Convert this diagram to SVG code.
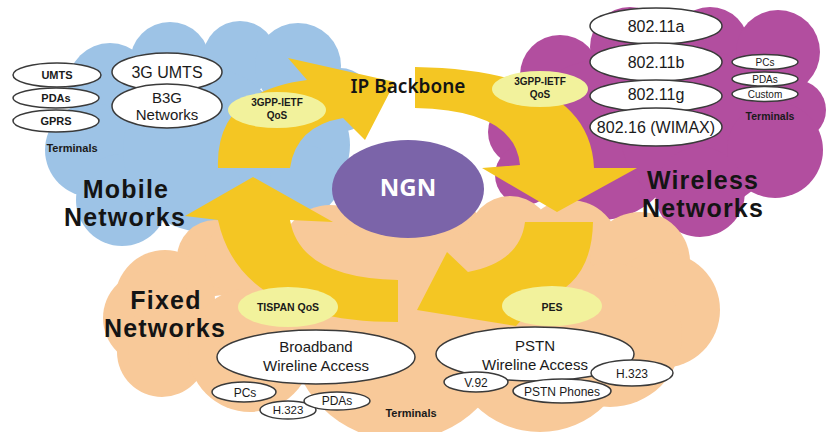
<svg xmlns="http://www.w3.org/2000/svg" width="826" height="432" viewBox="0 0 826 432">
  <style>
    .mobile { fill: #9dc3e6; }
    .wireless { fill: #b24e9f; }
    .fixed { fill: #f8c999; }
    .flow { fill: #f4c623; }
    .node { fill: #ffffff; stroke: #3a3a3a; stroke-width: 1.5; }
    .qos { fill: #f2f29c; }
    .t { font-family: "Liberation Sans", Arial, sans-serif; fill: #1a1a1a; text-anchor: middle; }
    .tb { font-family: "Liberation Sans", Arial, sans-serif; fill: #1a1a1a; text-anchor: middle; font-weight: bold; }
    .big { font-family: "Liberation Sans", Arial, sans-serif; font-weight: bold; font-size: 25px; letter-spacing: 1.2px; fill: #141414; text-anchor: middle; }
  </style>

  <rect width="826" height="432" fill="#ffffff"/>

  <!-- Mobile networks cloud -->
  <g id="mobile-cloud" class="mobile">
    <circle cx="110" cy="85" r="42"/>
    <circle cx="170" cy="62" r="40"/>
    <circle cx="240" cy="58" r="37"/>
    <circle cx="298" cy="66" r="43"/>
    <circle cx="340" cy="100" r="32"/>
    <circle cx="92" cy="150" r="47"/>
    <circle cx="122" cy="200" r="46"/>
    <circle cx="205" cy="150" r="82"/>
    <circle cx="290" cy="145" r="60"/>
    <circle cx="305" cy="180" r="35"/>
  </g>

  <!-- Wireless networks cloud -->
  <g id="wireless-cloud" class="wireless">
    <circle cx="560" cy="75" r="40"/>
    <circle cx="630" cy="47" r="40"/>
    <circle cx="710" cy="46" r="39"/>
    <circle cx="778" cy="52" r="42"/>
    <circle cx="796" cy="110" r="30"/>
    <circle cx="522" cy="132" r="34"/>
    <circle cx="600" cy="140" r="80"/>
    <circle cx="700" cy="130" r="80"/>
    <circle cx="775" cy="150" r="48"/>
    <circle cx="700" cy="192" r="45"/>
    <circle cx="525" cy="175" r="30"/>
  </g>

  <!-- Fixed networks cloud -->
  <g id="fixed-cloud" class="fixed">
    <circle cx="215" cy="258" r="38"/>
    <circle cx="245" cy="258" r="40"/>
    <circle cx="165" cy="300" r="50"/>
    <circle cx="150" cy="318" r="47"/>
    <circle cx="162" cy="352" r="45"/>
    <circle cx="330" cy="255" r="50"/>
    <circle cx="440" cy="247" r="50"/>
    <circle cx="510" cy="238" r="42"/>
    <circle cx="570" cy="250" r="50"/>
    <circle cx="640" cy="262" r="50"/>
    <circle cx="662" cy="310" r="58"/>
    <circle cx="400" cy="330" r="110"/>
    <circle cx="250" cy="350" r="62"/>
    <circle cx="540" cy="340" r="92"/>
    <circle cx="610" cy="335" r="72"/>
  </g>

  <!-- Curved flow arrows circling the core -->
  <g id="connectors" class="flow">
    <path d="M218,168 Q215,92 307,80 L288,58 L395,82 L365,140 L343,118 Q296,126 290,168 Z"/>
    <path d="M415,67 Q590,70 594,168 L637,168 L557,212 L482,168 L520,165 Q515,110 415,108 Z"/>
    <path d="M525,222 L593,222 Q592,285 540,300 L516,326 L417,310 L447,252 L468,272 Q520,262 525,222 Z"/>
    <path d="M398,322 Q240,322 218,220 L185,216 L253,177 L333,222 L290,220 Q300,278 398,280 Z"/>
  </g>

  <!-- Core -->
  <g id="ngn">
    <ellipse cx="408" cy="189" rx="76" ry="49" fill="#7b64a9"/>
    <text x="408" y="196" font-family="Noto Sans, DejaVu Sans, sans-serif" font-weight="bold" font-size="24" fill="#ffffff" text-anchor="middle">NGN</text>
  </g>

  <g id="ip-backbone">
    <text x="408" y="93" font-family="Noto Sans, DejaVu Sans, sans-serif" font-weight="600" font-size="19" fill="#141414" text-anchor="middle">IP Backbone</text>
  </g>

  <!-- Mobile side -->
  <g id="mobile-label">
    <text class="big" x="126" y="198">Mobile</text>
    <text class="big" x="125" y="226">Networks</text>
  </g>
  <g id="term-umts"><ellipse class="node" cx="57" cy="75" rx="44" ry="12"/><text class="tb" x="57" y="79" font-size="11">UMTS</text></g>
  <g id="term-pdas-m"><ellipse class="node" cx="56" cy="98" rx="43" ry="10"/><text class="tb" x="56" y="102" font-size="11">PDAs</text></g>
  <g id="term-gprs"><ellipse class="node" cx="56" cy="121" rx="43" ry="11"/><text class="tb" x="56" y="125" font-size="11">GPRS</text></g>
  <g id="terminals-m"><text class="tb" x="72" y="152" font-size="11" fill="#333">Terminals</text></g>
  <g id="umts-3g"><ellipse class="node" cx="167" cy="72" rx="55" ry="19"/><text class="t" x="167" y="78" font-size="16">3G UMTS</text></g>
  <g id="b3g"><ellipse class="node" cx="167" cy="106" rx="55" ry="22"/><text class="t" x="167" y="103" font-size="15">B3G</text><text class="t" x="167" y="120" font-size="15">Networks</text></g>
  <g id="qos-mobile"><ellipse class="qos" cx="277" cy="110" rx="49" ry="18"/><text class="tb" x="277" y="106" font-size="10">3GPP-IETF</text><text class="tb" x="277" y="119" font-size="10">QoS</text></g>

  <!-- Wireless side -->
  <g id="wireless-label">
    <text class="big" x="703" y="189">Wireless</text>
    <text class="big" x="703" y="217">Networks</text>
  </g>
  <g id="wl-80211a"><ellipse class="node" cx="656" cy="26" rx="66" ry="18"/><text class="t" x="656" y="32" font-size="16">802.11a</text></g>
  <g id="wl-80211b"><ellipse class="node" cx="656" cy="62" rx="66" ry="19"/><text class="t" x="656" y="68" font-size="16">802.11b</text></g>
  <g id="wl-80211g"><ellipse class="node" cx="656" cy="96" rx="66" ry="16"/><text class="t" x="656" y="100" font-size="16">802.11g</text></g>
  <g id="wl-80216"><ellipse class="node" cx="656" cy="127" rx="66" ry="19"/><text class="t" x="656" y="133" font-size="16">802.16 (WIMAX)</text></g>
  <g id="term-pcs-w"><ellipse class="node" cx="765" cy="62" rx="33" ry="7.5"/><text class="t" x="765" y="66" font-size="10">PCs</text></g>
  <g id="term-pdas-w"><ellipse class="node" cx="765" cy="79" rx="33" ry="7"/><text class="t" x="765" y="83" font-size="10">PDAs</text></g>
  <g id="term-custom"><ellipse class="node" cx="765" cy="94" rx="33" ry="7.5"/><text class="t" x="765" y="98" font-size="10">Custom</text></g>
  <g id="terminals-w"><text class="tb" x="770" y="120" font-size="10.5" fill="#4a2145">Terminals</text></g>
  <g id="qos-wireless"><ellipse class="qos" cx="540" cy="89" rx="48" ry="18"/><text class="tb" x="540" y="85" font-size="10">3GPP-IETF</text><text class="tb" x="540" y="98" font-size="10">QoS</text></g>

  <!-- Fixed side -->
  <g id="fixed-label">
    <text class="big" x="166" y="309">Fixed</text>
    <text class="big" x="165" y="337">Networks</text>
  </g>
  <g id="qos-tispan"><ellipse class="qos" cx="288" cy="307" rx="50" ry="20"/><text class="tb" x="288" y="311" font-size="10.5">TISPAN QoS</text></g>
  <g id="broadband"><ellipse class="node" cx="316" cy="357" rx="99" ry="27"/><text class="t" x="316" y="352" font-size="15">Broadband</text><text class="t" x="316" y="371" font-size="15">Wireline Access</text></g>
  <g id="term-pcs-f"><ellipse class="node" cx="244" cy="392" rx="32" ry="10"/><text class="t" x="245" y="397" font-size="12">PCs</text></g>
  <g id="term-h323-f"><ellipse class="node" cx="288" cy="410" rx="28" ry="9"/><text class="t" x="288" y="414" font-size="11.5">H.323</text></g>
  <g id="term-pdas-f"><ellipse class="node" cx="337" cy="401" rx="33" ry="9"/><text class="t" x="337" y="405" font-size="12">PDAs</text></g>
  <g id="terminals-f"><text class="tb" x="411" y="417" font-size="11">Terminals</text></g>
  <g id="qos-pes"><ellipse class="qos" cx="552" cy="306" rx="50" ry="20"/><text class="tb" x="552" y="311" font-size="10.5">PES</text></g>
  <g id="pstn"><ellipse class="node" cx="535" cy="354" rx="99" ry="27"/><text class="t" x="535" y="351" font-size="15">PSTN</text><text class="t" x="535" y="370" font-size="15">Wireline Access</text></g>
  <g id="term-v92"><ellipse class="node" cx="476" cy="382" rx="32" ry="10"/><text class="t" x="476" y="387" font-size="12">V.92</text></g>
  <g id="term-phones"><ellipse class="node" cx="562" cy="391" rx="49" ry="12"/><text class="t" x="562" y="396" font-size="12">PSTN Phones</text></g>
  <g id="term-h323-p"><ellipse class="node" cx="632" cy="373" rx="41" ry="13"/><text class="t" x="632" y="378" font-size="12">H.323</text></g>
</svg>
